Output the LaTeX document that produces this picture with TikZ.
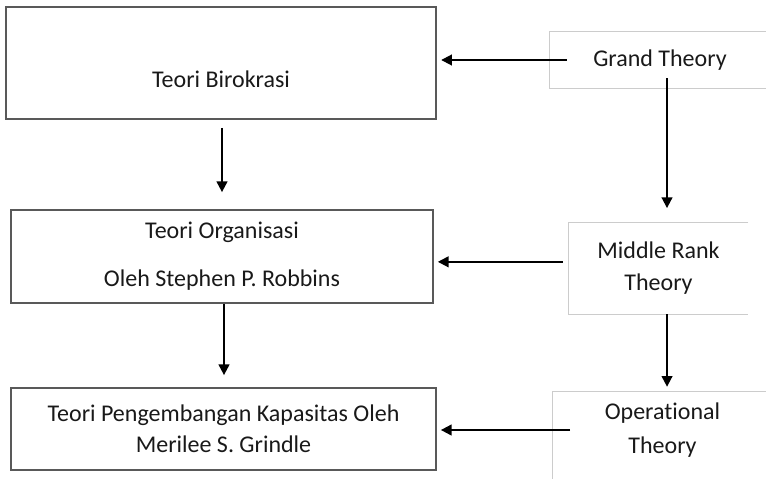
\documentclass[tikz,border=0pt]{standalone}
\usepackage{fontspec}
\setmainfont{Carlito}[Ligatures=NoCommon]
\usetikzlibrary{arrows.meta}

\begin{document}
\begin{tikzpicture}[x=0.75pt,y=-0.75pt,
        levelbox/.style={rectangle,draw=black!65,line width=1.3pt,align=center,text=black!90,font=\fontsize{18}{23}\selectfont},
        theorybox/.style={rectangle,align=center,text=black!90,font=\fontsize{18}{24}\selectfont},
        theoryframe/.style={draw=black!20,line width=0.7pt},
        flow/.style={-{Triangle[width=8pt,length=8pt]},line width=1.4pt}]
    \useasboundingbox (0,0) rectangle (766,478);

    % left column
    \node[levelbox,minimum width=323pt,minimum height=84pt,text height=42pt,text depth=5.5pt] (birokrasi) at (221,63) {Teori Birokrasi};
    \node[levelbox,minimum width=316.5pt,minimum height=69.75pt] (organisasi) at (222,256.5) {Teori Organisasi\\[13pt]Oleh Stephen P. Robbins};
    \node[levelbox,minimum width=318.75pt,minimum height=61.5pt] (grindle) at (223.5,429) {Teori Pengembangan Kapasitas Oleh\\Merilee S. Grindle};

    % right column
    \node[theorybox,theoryframe,minimum width=166.5pt,minimum height=42.75pt] (grand) at (660,60) {Grand Theory};
    \node[theorybox,minimum width=134.25pt,minimum height=68.25pt] (mid) at (658.5,268.5) {Middle Rank\\Theory};
    \node[theorybox,font=\fontsize{18}{25.5}\selectfont,minimum width=164.25pt,minimum height=57pt] (op) at (662.5,430) {Operational\\Theory};
    \draw[theoryframe] (mid.north east) -- (mid.north west) -- (mid.south west) -- (mid.south east);
    \draw[theoryframe] (op.north east) -- (op.north west) -- ([yshift=-12pt]op.south west);

    % connectors
    \path[flow] ([xshift=13.5pt]grand.west) edge ([xshift=3pt]grand.west -| birokrasi.east);
    \path[flow] ([xshift=-4.5pt,yshift=5pt]mid.west) edge ([xshift=3pt,yshift=5pt]mid.west -| organisasi.east);
    \path[flow] ([xshift=13pt]op.west) edge ([xshift=3pt]op.west -| grindle.east);
    \path[flow] ([xshift=5.25pt,yshift=7.9pt]grand.south) edge ([xshift=5.25pt,yshift=11pt]mid.north -| grand.south);
    \path[flow] ([xshift=6.4pt]mid.south) edge ([xshift=6.4pt,yshift=3.75pt]op.north -| mid.south);
    \path[flow] ([xshift=0.75pt,yshift=-6pt]birokrasi.south) edge ([xshift=0.75pt,yshift=12.75pt]organisasi.north -| birokrasi.south);
    \path[flow] ([xshift=1.5pt]organisasi.south) edge ([xshift=1.5pt,yshift=9pt]grindle.north -| organisasi.south);
\end{tikzpicture}
\end{document}
